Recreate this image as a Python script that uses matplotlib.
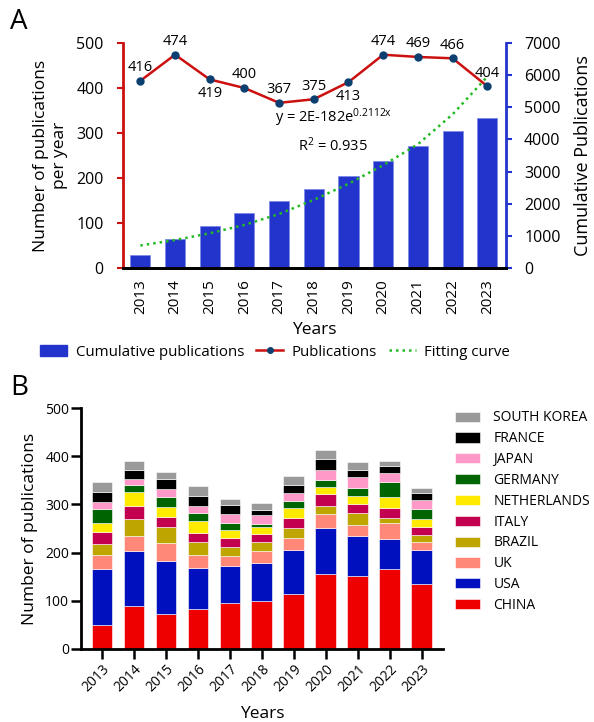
import matplotlib
matplotlib.use("Agg")
import matplotlib.pyplot as plt
from matplotlib.lines import Line2D
from matplotlib.patches import Patch

plt.rcParams['font.family'] = ['Open Sans', 'DejaVu Sans']
plt.rcParams['mathtext.default'] = 'regular'

years = [2013, 2014, 2015, 2016, 2017, 2018, 2019, 2020, 2021, 2022, 2023]
publications = [416, 474, 419, 400, 367, 375, 413, 474, 469, 466, 404]
cumulative = [416, 890, 1309, 1709, 2076, 2451, 2864, 3338, 3807, 4273, 4677]
fitting = [700, 870, 1080, 1340, 1680, 2120, 2620, 3200, 3850, 4780, 5950]
label_below = [False, False, True, False, False, False, True, False, False, False, False]

countries = ['CHINA', 'USA', 'UK', 'BRAZIL', 'ITALY', 'NETHERLANDS',
             'GERMANY', 'JAPAN', 'FRANCE', 'SOUTH KOREA']
china = [50, 89, 73, 82, 96, 100, 114, 155, 152, 166, 135]
usa = [115, 114, 110, 86, 77, 78, 91, 96, 82, 62, 70]
uk = [29, 32, 36, 27, 20, 26, 26, 30, 24, 34, 17]
brazil = [24, 35, 34, 26, 18, 19, 20, 16, 24, 9, 14]
italy = [24, 26, 20, 19, 20, 15, 20, 24, 19, 21, 18]
netherlands = [20, 29, 22, 25, 15, 15, 21, 16, 16, 23, 15]
germany = [28, 16, 20, 18, 15, 6, 15, 14, 16, 31, 21]
japan = [15, 11, 17, 13, 19, 18, 16, 21, 24, 20, 20]
france = [20, 20, 21, 21, 18, 12, 18, 23, 14, 13, 13]
south_korea = [21, 19, 14, 21, 14, 14, 18, 18, 16, 12, 10]
country_values = [china, usa, uk, brazil, italy, netherlands, germany, japan, france, south_korea]
country_colors = ['#EE0000', '#0010BE', '#FF8878', '#BFA500', '#C3004F',
                  '#FFEA00', '#006400', '#FF99C8', '#000000', '#9A9A9A']

fig = plt.figure(figsize=(5.94, 7.22), dpi=100)

# ---------------- Panel A ----------------
axA = fig.add_axes([123/594, 1-268/722, 383/594, 225/722])
axR = axA.twinx()
axA.set_zorder(axR.get_zorder() + 1)
axA.patch.set_visible(False)

bar_blue = '#2234CC'
line_red = '#CC1010'
axR.bar(years, cumulative, width=0.58, color=bar_blue, edgecolor='#7f8ae6', linewidth=0.6)
axR.plot(years, fitting, linestyle=(0, (1, 1.6)), color='#22BB22', linewidth=1.8)
axR.set_ylim(0, 7000)
axR.set_yticks(range(0, 7001, 1000))

axA.plot(years, publications, color=line_red, linewidth=1.8, marker='o',
         markersize=5, markerfacecolor='#0B3F70', markeredgecolor='#0B3F70')
for x, v, below in zip(years, publications, label_below):
    if below:
        axA.annotate(str(v), (x, v), xytext=(0, -5), textcoords='offset points',
                     ha='center', va='top', fontsize=10.5)
    else:
        axA.annotate(str(v), (x, v), xytext=(0, 4), textcoords='offset points',
                     ha='center', va='bottom', fontsize=10.5)
axA.set_ylim(0, 500)
axA.set_yticks(range(0, 501, 100))
axA.set_xlim(2012.5, 2023.54)
axA.set_xticks(years)
axA.set_xticklabels([str(y) for y in years], rotation=90, fontsize=11)
axA.tick_params(axis='x', length=0, pad=8)
axA.tick_params(axis='y', colors='black', labelsize=11.5, length=4, width=1.5, pad=10)
axA.tick_params(axis='y', color=line_red)
axR.tick_params(axis='y', labelsize=11.5, length=4, width=1.5, color=bar_blue, pad=9)

for ax in (axA, axR):
    ax.spines['top'].set_visible(False)
axA.spines['left'].set_color(line_red)
axA.spines['left'].set_linewidth(2)
axA.spines['right'].set_visible(False)
axR.spines['left'].set_visible(False)
axR.spines['right'].set_color(bar_blue)
axR.spines['right'].set_linewidth(2)
axA.spines['bottom'].set_linewidth(2)
axR.spines['bottom'].set_linewidth(2)

axA.set_ylabel('Number of publications\nper year', fontsize=12.5, labelpad=6)
axR.set_ylabel('Cumulative Publications', fontsize=13, labelpad=10)
axA.set_xlabel('Years', fontsize=12.5, labelpad=6)

fig.text(275/594, 1-118/722, r'y = 2E-182e$^{0.2112x}$', fontsize=10.5, va='center', ha='left')
fig.text(298/594, 1-146/722, 'R$^{2}$ = 0.935', fontsize=10.5, va='center', ha='left')

handles = [Patch(facecolor=bar_blue, edgecolor=bar_blue),
           Line2D([], [], color=line_red, linewidth=1.8, marker='o', markersize=4,
                  markerfacecolor='#0B3F70', markeredgecolor='#0B3F70'),
           Line2D([], [], color='#22BB22', linestyle=(0, (1, 1.6)), linewidth=1.8)]
fig.legend(handles, ['Cumulative publications', 'Publications', 'Fitting curve'],
           loc='center', bbox_to_anchor=(275/594, 1-352/722), ncol=3, frameon=False,
           fontsize=10.8, handlelength=1.8, handletextpad=0.55, columnspacing=0.8)

fig.text(10/594, 1-22/722, 'A', fontsize=20, va='center', ha='left')

# ---------------- Panel B ----------------
axB = fig.add_axes([81/594, 1-649/722, 362/594, 241/722])
bottom = [0] * len(years)
bar_handles = []
for name, vals, col in zip(countries, country_values, country_colors):
    b = axB.bar(years, vals, width=0.65, bottom=bottom, color=col,
                edgecolor='white', linewidth=0.4, label=name)
    bar_handles.append(b)
    bottom = [a + v for a, v in zip(bottom, vals)]

axB.set_ylim(0, 500)
axB.set_yticks(range(0, 501, 100))
axB.set_xlim(2012.34, 2023.67)
axB.set_xticks(years)
axB.set_xticklabels([str(y) for y in years], rotation=45, ha='right',
                    rotation_mode='anchor', fontsize=10)
axB.tick_params(axis='y', labelsize=10, length=7, width=1.8, pad=1.5)
axB.tick_params(axis='x', length=7, width=1.8, pad=2)
axB.spines['top'].set_visible(False)
axB.spines['right'].set_visible(False)
axB.spines['left'].set_linewidth(2)
axB.spines['bottom'].set_linewidth(2)
axB.set_ylabel('Number of publications', fontsize=12.5, labelpad=5)
axB.set_xlabel('Years', fontsize=12.5, labelpad=8)

fig.legend(bar_handles[::-1], countries[::-1], loc='upper left',
           bbox_to_anchor=(442/594, 1-398/722), frameon=False, fontsize=10,
           handlelength=1.8, handleheight=0.75, labelspacing=0.42, handletextpad=1.0)

fig.text(10/594, 1-388/722, 'B', fontsize=20, va='center', ha='left')

fig.savefig('out.png', dpi=100)
